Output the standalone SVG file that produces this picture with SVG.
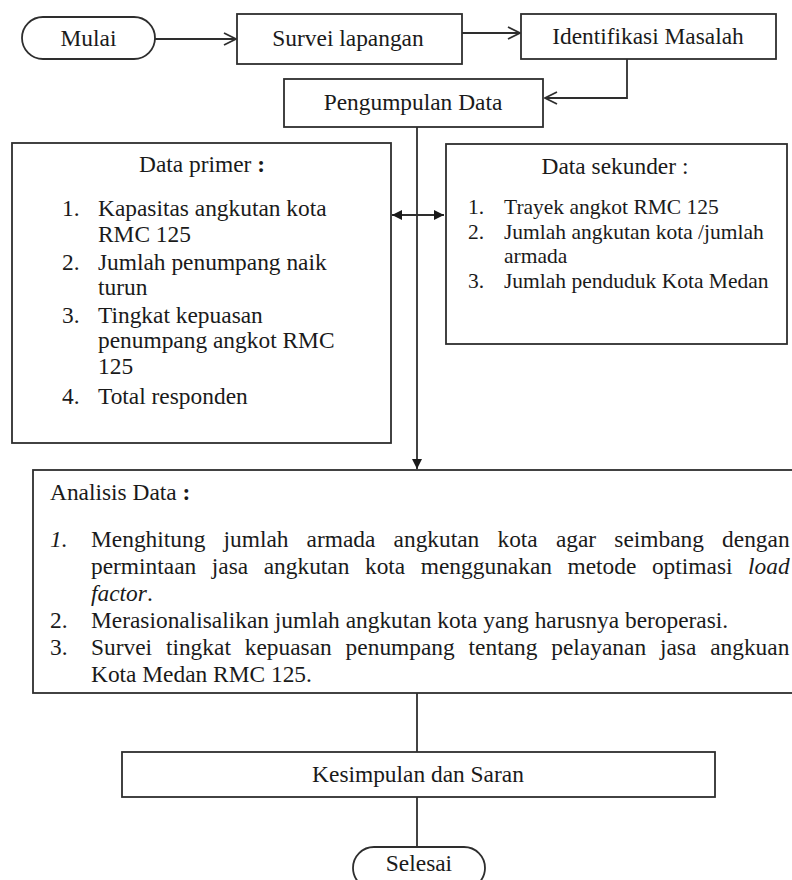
<svg xmlns="http://www.w3.org/2000/svg" width="792" height="880" viewBox="0 0 792 880">
<defs>
<style>
.bx{fill:#fff;stroke:#2e2e2e;stroke-width:1.8}
.ln{fill:none;stroke:#2e2e2e;stroke-width:1.8}
.t{font-family:"Liberation Serif","Times New Roman",serif;font-size:23.4px;fill:#1a1a1a}
.s{font-size:21.5px}
.c{text-anchor:middle}
.b{font-weight:bold}
.i{font-style:italic}
</style>
<marker id="open" viewBox="0 0 14 14" refX="13" refY="7" markerWidth="14" markerHeight="14" markerUnits="userSpaceOnUse" orient="auto">
<path d="M1,1 L13,7 L1,13" fill="none" stroke="#2e2e2e" stroke-width="1.8"/>
</marker>
<marker id="fill" viewBox="0 0 10 10" refX="10" refY="5" markerWidth="10" markerHeight="10" markerUnits="userSpaceOnUse" orient="auto-start-reverse">
<path d="M0,0 L10,5 L0,10 Z" fill="#1a1a1a"/>
</marker>
</defs>
<rect width="792" height="880" fill="#fff"/>

<g id="connectors">
<line class="ln" x1="155" y1="39" x2="236" y2="39" marker-end="url(#open)"/>
<line class="ln" x1="462" y1="33" x2="520" y2="33" marker-end="url(#open)"/>
<polyline class="ln" points="627,59 627,98 545,98" marker-end="url(#open)"/>
<line class="ln" x1="417" y1="127" x2="417" y2="469" marker-end="url(#fill)"/>
<line class="ln" x1="392" y1="215" x2="444" y2="215" marker-start="url(#fill)" marker-end="url(#fill)"/>
<line class="ln" x1="417" y1="693" x2="417" y2="752"/>
<line class="ln" x1="417" y1="797" x2="417" y2="847"/>
</g>

<g id="mulai">
<rect class="bx" x="22" y="17" width="133" height="42" rx="21"/>
<text class="t c" x="88.5" y="46">Mulai</text>
</g>

<g id="survei">
<rect class="bx" x="237" y="14" width="225" height="50"/>
<text class="t c" x="348" y="46">Survei lapangan</text>
</g>

<g id="identifikasi">
<rect class="bx" x="521" y="14" width="255" height="45"/>
<text class="t c" x="648" y="44">Identifikasi Masalah</text>
</g>

<g id="pengumpulan">
<rect class="bx" x="284" y="79" width="259" height="48"/>
<text class="t c" x="413" y="110">Pengumpulan Data</text>
</g>

<g id="primer">
<rect class="bx" x="12" y="143" width="379" height="300"/>
<text class="t c" x="202" y="172">Data primer <tspan class="b">:</tspan></text>
<text class="t" x="62" y="216">1.</text>
<text class="t" x="98" y="216">Kapasitas angkutan kota</text>
<text class="t" x="98" y="242">RMC 125</text>
<text class="t" x="62" y="270">2.</text>
<text class="t" x="98" y="270">Jumlah penumpang naik</text>
<text class="t" x="98" y="295">turun</text>
<text class="t" x="62" y="323">3.</text>
<text class="t" x="98" y="323">Tingkat kepuasan</text>
<text class="t" x="98" y="348">penumpang angkot RMC</text>
<text class="t" x="98" y="374">125</text>
<text class="t" x="62" y="404">4.</text>
<text class="t" x="98" y="404">Total responden</text>
</g>

<g id="sekunder">
<rect class="bx" x="446" y="144" width="341" height="200"/>
<text class="t c" x="615" y="174">Data sekunder :</text>
<text class="t s" x="468" y="214">1.</text>
<text class="t s" x="504" y="214">Trayek angkot RMC 125</text>
<text class="t s" x="468" y="239">2.</text>
<text class="t s" x="504" y="239">Jumlah angkutan kota /jumlah</text>
<text class="t s" x="504" y="263">armada</text>
<text class="t s" x="468" y="288">3.</text>
<text class="t s" x="504" y="288">Jumlah penduduk Kota Medan</text>
</g>

<g id="analisis">
<rect class="bx" x="33" y="470" width="780" height="223"/>
<text class="t" x="50" y="500">Analisis Data <tspan class="b">:</tspan></text>
<text class="t i" x="50" y="547">1.</text>
<text class="t" x="91" y="547" word-spacing="12.3">Menghitung jumlah armada angkutan kota agar seimbang dengan</text>
<text class="t" x="91" y="574" word-spacing="9.7">permintaan jasa angkutan kota menggunakan metode optimasi <tspan class="i">load</tspan></text>
<text class="t i" x="91" y="601">factor<tspan font-style="normal">.</tspan></text>
<text class="t" x="50" y="628">2.</text>
<text class="t" x="91" y="628">Merasionalisalikan jumlah angkutan kota yang harusnya beroperasi.</text>
<text class="t" x="50" y="655">3.</text>
<text class="t" x="91" y="655" word-spacing="8.0">Survei tingkat kepuasan penumpang tentang pelayanan jasa angkuan</text>
<text class="t" x="91" y="682">Kota Medan RMC 125.</text>
</g>

<g id="kesimpulan">
<rect class="bx" x="122" y="752" width="593" height="45"/>
<text class="t c" x="418" y="782">Kesimpulan dan Saran</text>
</g>

<g id="selesai">
<rect class="bx" x="353" y="847" width="132" height="42" rx="21"/>
<text class="t c" x="419" y="871">Selesai</text>
</g>
</svg>
